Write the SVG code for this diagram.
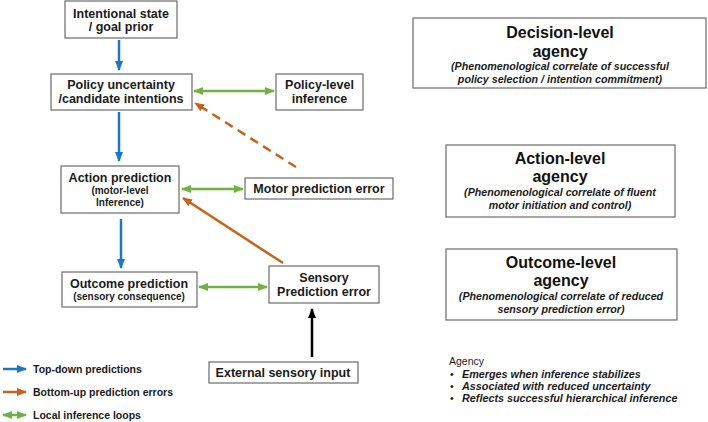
<svg xmlns="http://www.w3.org/2000/svg" width="708" height="422" viewBox="0 0 708 422">
<style>
.box{fill:#fff;stroke:#6b6b6b;stroke-width:1.2}
.t{font-family:"Liberation Sans",Arial,sans-serif;font-weight:bold;font-size:12.5px;fill:#1a1a1a;text-anchor:middle}
.s{font-family:"Liberation Sans",Arial,sans-serif;font-weight:bold;font-size:10px;fill:#1a1a1a;text-anchor:middle}
.h{font-family:"Liberation Sans",Arial,sans-serif;font-weight:bold;font-size:16px;fill:#111;text-anchor:middle}
.i{font-family:"Liberation Sans",Arial,sans-serif;font-weight:bold;font-style:italic;font-size:10.7px;fill:#1a1a1a;text-anchor:middle}
.l{font-family:"Liberation Sans",Arial,sans-serif;font-weight:bold;font-size:10.5px;fill:#1a1a1a}
.a{font-family:"Liberation Sans",Arial,sans-serif;font-size:10.5px;fill:#1a1a1a}
.ai{font-family:"Liberation Sans",Arial,sans-serif;font-style:italic;font-weight:bold;font-size:10.8px;fill:#1a1a1a}
.blue{stroke:#1b75c9;stroke-width:2.5;fill:none}
.orange{stroke:#c5621c;stroke-width:2.5;fill:none}
.green{stroke:#72b043;stroke-width:2.5;fill:none}
.black{stroke:#000;stroke-width:2.5;fill:none}
</style>
<defs>
<marker id="mb" markerUnits="userSpaceOnUse" markerWidth="10" markerHeight="10" viewBox="0 0 10 10" refX="9" refY="5" orient="auto"><path d="M0,1 L10,5 L0,9 Z" fill="#1b75c9"/></marker>
<marker id="mo" markerUnits="userSpaceOnUse" markerWidth="10" markerHeight="10" viewBox="0 0 10 10" refX="9" refY="5" orient="auto"><path d="M0,1 L10,5 L0,9 Z" fill="#c5621c"/></marker>
<marker id="mg" markerUnits="userSpaceOnUse" markerWidth="10" markerHeight="10" viewBox="0 0 10 10" refX="9" refY="5" orient="auto-start-reverse"><path d="M0,1 L10,5 L0,9 Z" fill="#72b043"/></marker>
<marker id="mk" markerUnits="userSpaceOnUse" markerWidth="10" markerHeight="10" viewBox="0 0 10 10" refX="9" refY="5" orient="auto"><path d="M0,1 L10,5 L0,9 Z" fill="#000"/></marker>
</defs>
<g id="connectors">
<line class="blue" x1="119" y1="40" x2="119" y2="70" marker-end="url(#mb)"/>
<line class="blue" x1="119" y1="112" x2="119" y2="161" marker-end="url(#mb)"/>
<line class="blue" x1="121" y1="219" x2="121" y2="268" marker-end="url(#mb)"/>
<line class="green" x1="194" y1="91" x2="274" y2="91" marker-start="url(#mg)" marker-end="url(#mg)"/>
<line class="green" x1="182" y1="189" x2="243" y2="189" marker-start="url(#mg)" marker-end="url(#mg)"/>
<line class="green" x1="199" y1="287" x2="267" y2="287" marker-start="url(#mg)" marker-end="url(#mg)"/>
<line class="orange" x1="296" y1="167" x2="195" y2="103" stroke-dasharray="9,6" marker-end="url(#mo)"/>
<line class="orange" x1="283" y1="263" x2="183" y2="198" marker-end="url(#mo)"/>
<line class="black" x1="312" y1="357" x2="312" y2="309" marker-end="url(#mk)"/>
</g>
<g id="n-intentional"><rect class="box" x="65" y="1" width="112" height="37"/><text class="t" x="121" y="18">Intentional state</text><text class="t" x="121" y="31">/ goal prior</text></g>
<g id="n-policy"><rect class="box" x="51" y="74" width="141" height="36"/><text class="t" x="121" y="89">Policy uncertainty</text><text class="t" x="121" y="103">/candidate intentions</text></g>
<g id="n-policyinf"><rect class="box" x="276" y="74" width="87" height="36"/><text class="t" x="319.5" y="89">Policy-level</text><text class="t" x="319.5" y="103">inference</text></g>
<g id="n-action"><rect class="box" x="61" y="166" width="118" height="47"/><text class="t" x="120" y="182">Action prediction</text><text class="s" x="120" y="194">(motor-level</text><text class="s" x="120" y="206">Inference)</text></g>
<g id="n-motor"><rect class="box" x="245" y="178" width="148" height="21"/><text class="t" x="319" y="193">Motor prediction error</text></g>
<g id="n-outcome"><rect class="box" x="62" y="272" width="135" height="35"/><text class="t" x="129" y="288">Outcome prediction</text><text class="s" x="129" y="300">(sensory consequence)</text></g>
<g id="n-sensory"><rect class="box" x="269" y="266" width="110" height="37"/><text class="t" x="324" y="282">Sensory</text><text class="t" x="324" y="296">Prediction error</text></g>
<g id="n-external"><rect class="box" x="209" y="362" width="149" height="21"/><text class="t" x="283" y="377">External sensory input</text></g>
<g id="n-decision"><rect class="box" x="413" y="18" width="293" height="70"/><text class="h" x="560" y="38">Decision-level</text><text class="h" x="560" y="57">agency</text><text class="i" x="560" y="70">(Phenomenological correlate of successful</text><text class="i" x="560" y="83">policy selection / intention commitment)</text></g>
<g id="n-actionlevel"><rect class="box" x="446" y="145" width="229" height="72"/><text class="h" x="560" y="164">Action-level</text><text class="h" x="560" y="182">agency</text><text class="i" x="560" y="196">(Phenomenological correlate of fluent</text><text class="i" x="560" y="209">motor initiation and control)</text></g>
<g id="n-outcomelevel"><rect class="box" x="446" y="249" width="231" height="71"/><text class="h" x="561" y="268">Outcome-level</text><text class="h" x="561" y="286">agency</text><text class="i" x="561" y="300">(Phenomenological correlate of reduced</text><text class="i" x="561" y="313">sensory prediction error)</text></g>
<g id="agency-notes">
<text class="a" x="449" y="365">Agency</text>
<text class="a" x="450" y="378">•</text><text class="ai" x="462" y="378">Emerges when inference stabilizes</text>
<text class="a" x="450" y="390">•</text><text class="ai" x="462" y="390">Associated with reduced uncertainty</text>
<text class="a" x="450" y="402">•</text><text class="ai" x="462" y="402">Reflects successful hierarchical inference</text>
</g>
<g id="legend">
<line class="blue" x1="3" y1="369" x2="26" y2="369" marker-end="url(#mb)"/>
<text class="l" x="33" y="373">Top-down predictions</text>
<line class="orange" x1="3" y1="392" x2="26" y2="392" marker-end="url(#mo)"/>
<text class="l" x="33" y="396">Bottom-up prediction errors</text>
<line class="green" x1="3" y1="415" x2="26" y2="415" marker-start="url(#mg)" marker-end="url(#mg)"/>
<text class="l" x="33" y="419">Local inference loops</text>
</g>
</svg>
